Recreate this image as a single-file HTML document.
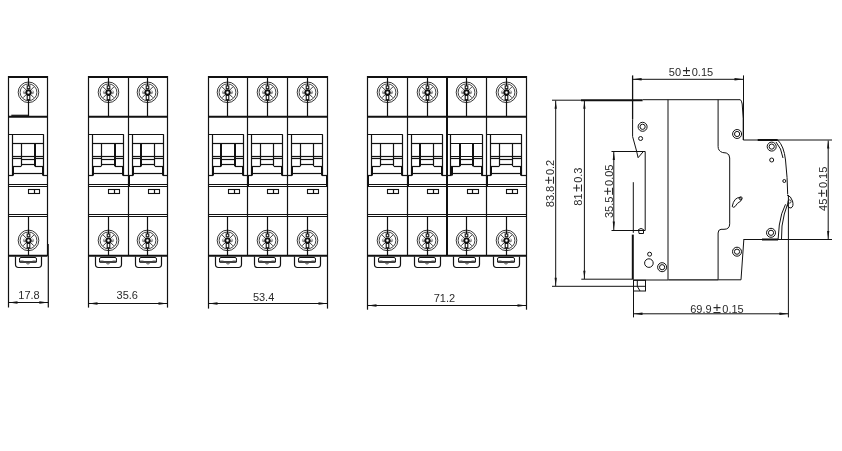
<!DOCTYPE html><html><head><meta charset="utf-8"><style>html,body{margin:0;padding:0;background:#fff;}svg{display:block;font-family:"Liberation Sans",sans-serif;} svg{will-change:transform}</style></head><body>
<svg width="842" height="451" viewBox="0 0 842 451">
<rect width="842" height="451" fill="#fff"/>
<line x1="8.50" y1="76.00" x2="8.50" y2="307.50" stroke="#111" stroke-width="1.2"/>
<line x1="47.50" y1="76.00" x2="47.50" y2="256.00" stroke="#111" stroke-width="1.2"/>
<line x1="48.00" y1="244.00" x2="48.00" y2="256.00" stroke="#111" stroke-width="1.6"/>
<line x1="48.30" y1="256.00" x2="48.30" y2="307.50" stroke="#111" stroke-width="1.2"/>
<line x1="8.50" y1="77.00" x2="47.50" y2="77.00" stroke="#111" stroke-width="2.0"/>
<line x1="8.50" y1="116.70" x2="47.50" y2="116.70" stroke="#111" stroke-width="2.0"/>
<line x1="8.50" y1="184.50" x2="47.50" y2="184.50" stroke="#111" stroke-width="1.2"/>
<line x1="8.50" y1="186.50" x2="47.50" y2="186.50" stroke="#111" stroke-width="1.2"/>
<line x1="8.50" y1="214.50" x2="47.50" y2="214.50" stroke="#111" stroke-width="1.2"/>
<line x1="8.50" y1="216.50" x2="47.50" y2="216.50" stroke="#111" stroke-width="1.2"/>
<line x1="8.50" y1="255.80" x2="47.50" y2="255.80" stroke="#111" stroke-width="2.0"/>
<line x1="28.50" y1="77.00" x2="28.50" y2="85.90" stroke="#111" stroke-width="1.2"/>
<line x1="28.50" y1="99.70" x2="28.50" y2="116.00" stroke="#111" stroke-width="1.2"/>
<circle cx="28.50" cy="92.30" r="10.30" fill="none" stroke="#111" stroke-width="0.85"/>
<circle cx="28.50" cy="92.30" r="8.40" fill="none" stroke="#111" stroke-width="0.8"/>
<line x1="30.62" y1="94.42" x2="33.87" y2="97.67" stroke="#222" stroke-width="0.9"/>
<line x1="26.38" y1="94.42" x2="23.13" y2="97.67" stroke="#222" stroke-width="0.9"/>
<line x1="26.38" y1="90.18" x2="23.13" y2="86.93" stroke="#222" stroke-width="0.9"/>
<line x1="30.62" y1="90.18" x2="33.87" y2="86.93" stroke="#222" stroke-width="0.9"/>
<path d="M24.30,90.50 A2.6,2.6 0 0 0 24.30,94.10" fill="none" stroke="#777" stroke-width="0.9"/>
<path d="M32.70,90.50 A2.6,2.6 0 0 1 32.70,94.10" fill="none" stroke="#777" stroke-width="0.9"/>
<line x1="23.90" y1="92.90" x2="25.90" y2="92.90" stroke="#333" stroke-width="0.9"/>
<line x1="31.10" y1="92.90" x2="33.10" y2="92.90" stroke="#333" stroke-width="0.9"/>
<circle cx="28.50" cy="92.50" r="2.20" fill="none" stroke="#111" stroke-width="1.9"/>
<rect x="27.20" y="85.90" width="2.60" height="2.80" fill="none" stroke="#111" stroke-width="1.1" rx="0"/>
<rect x="27.20" y="95.30" width="2.60" height="4.40" fill="none" stroke="#111" stroke-width="1.1" rx="0"/>
<line x1="8.50" y1="134.50" x2="43.60" y2="134.50" stroke="#111" stroke-width="1.2"/>
<line x1="12.50" y1="134.30" x2="12.50" y2="175.60" stroke="#111" stroke-width="1.2"/>
<line x1="43.50" y1="134.30" x2="43.50" y2="175.60" stroke="#111" stroke-width="1.2"/>
<line x1="12.40" y1="143.50" x2="43.60" y2="143.50" stroke="#111" stroke-width="1.2"/>
<line x1="21.50" y1="143.30" x2="21.50" y2="166.20" stroke="#111" stroke-width="1.2"/>
<line x1="35.00" y1="143.30" x2="35.00" y2="166.20" stroke="#111" stroke-width="2.0"/>
<line x1="12.40" y1="156.50" x2="43.60" y2="156.50" stroke="#111" stroke-width="1.2"/>
<line x1="12.40" y1="158.50" x2="21.30" y2="158.50" stroke="#111" stroke-width="1.2"/>
<line x1="34.90" y1="158.50" x2="43.60" y2="158.50" stroke="#111" stroke-width="1.2"/>
<line x1="21.30" y1="159.50" x2="34.90" y2="159.50" stroke="#111" stroke-width="1.2"/>
<line x1="21.30" y1="164.50" x2="34.90" y2="164.50" stroke="#111" stroke-width="1.2"/>
<line x1="12.40" y1="166.50" x2="21.30" y2="166.50" stroke="#111" stroke-width="1.2"/>
<line x1="34.90" y1="166.50" x2="43.60" y2="166.50" stroke="#111" stroke-width="1.2"/>
<line x1="13.00" y1="166.20" x2="13.00" y2="175.60" stroke="#111" stroke-width="2.0"/>
<line x1="43.00" y1="166.20" x2="43.00" y2="175.60" stroke="#111" stroke-width="2.0"/>
<line x1="13.10" y1="173.50" x2="42.90" y2="173.50" stroke="#111" stroke-width="1.2"/>
<line x1="8.50" y1="175.50" x2="13.10" y2="175.50" stroke="#111" stroke-width="1.2"/>
<line x1="42.90" y1="175.50" x2="47.50" y2="175.50" stroke="#111" stroke-width="1.2"/>
<rect x="28.50" y="189.50" width="11.00" height="4.00" fill="none" stroke="#111" stroke-width="1.1" rx="0"/>
<line x1="34.50" y1="189.50" x2="34.50" y2="193.50" stroke="#111" stroke-width="1.2"/>
<line x1="28.50" y1="216.60" x2="28.50" y2="234.00" stroke="#111" stroke-width="1.2"/>
<line x1="28.50" y1="247.80" x2="28.50" y2="255.00" stroke="#111" stroke-width="1.2"/>
<circle cx="28.50" cy="240.40" r="10.30" fill="none" stroke="#111" stroke-width="0.85"/>
<circle cx="28.50" cy="240.40" r="8.40" fill="none" stroke="#111" stroke-width="0.8"/>
<line x1="30.62" y1="242.52" x2="33.87" y2="245.77" stroke="#222" stroke-width="0.9"/>
<line x1="26.38" y1="242.52" x2="23.13" y2="245.77" stroke="#222" stroke-width="0.9"/>
<line x1="26.38" y1="238.28" x2="23.13" y2="235.03" stroke="#222" stroke-width="0.9"/>
<line x1="30.62" y1="238.28" x2="33.87" y2="235.03" stroke="#222" stroke-width="0.9"/>
<path d="M24.30,238.60 A2.6,2.6 0 0 0 24.30,242.20" fill="none" stroke="#777" stroke-width="0.9"/>
<path d="M32.70,238.60 A2.6,2.6 0 0 1 32.70,242.20" fill="none" stroke="#777" stroke-width="0.9"/>
<line x1="23.90" y1="241.00" x2="25.90" y2="241.00" stroke="#333" stroke-width="0.9"/>
<line x1="31.10" y1="241.00" x2="33.10" y2="241.00" stroke="#333" stroke-width="0.9"/>
<circle cx="28.50" cy="240.60" r="2.20" fill="none" stroke="#111" stroke-width="1.9"/>
<rect x="27.20" y="234.00" width="2.60" height="2.80" fill="none" stroke="#111" stroke-width="1.1" rx="0"/>
<rect x="27.20" y="243.40" width="2.60" height="4.40" fill="none" stroke="#111" stroke-width="1.1" rx="0"/>
<path d="M15.50,256.5 L15.50,264.3 Q15.50,267.5 18.50,267.5 L38.50,267.5 Q41.50,267.5 41.50,264.3 L41.50,256.5" fill="none" stroke="#111" stroke-width="1.2"/>
<path d="M19.50,262 L19.50,259 Q19.50,257.5 21.00,257.5 L35.00,257.5 Q36.50,257.5 36.50,259 L36.50,262" fill="none" stroke="#111" stroke-width="1.0"/>
<line x1="19.50" y1="262.00" x2="36.50" y2="262.00" stroke="#111" stroke-width="1.6"/>
<line x1="19.50" y1="260.80" x2="23.50" y2="260.80" stroke="#777" stroke-width="0.8"/>
<line x1="32.50" y1="260.80" x2="36.50" y2="260.80" stroke="#777" stroke-width="0.8"/>
<path d="M26.40,262.6 A1.6,1.4 0 0 0 29.60,262.6" fill="none" stroke="#555" stroke-width="1.0"/>
<line x1="8.50" y1="302.50" x2="48.30" y2="302.50" stroke="#111" stroke-width="1.1"/>
<path d="M8.50,302.50 L17.50,301.20 L17.50,303.80 Z" fill="#111" stroke="none"/>
<path d="M48.30,302.50 L39.30,301.20 L39.30,303.80 Z" fill="#111" stroke="none"/>
<text x="29.00" y="299.30" font-size="11" text-anchor="middle" fill="#2a2a2a">17.8</text>
<line x1="88.50" y1="76.00" x2="88.50" y2="307.60" stroke="#111" stroke-width="1.2"/>
<line x1="167.50" y1="76.00" x2="167.50" y2="307.60" stroke="#111" stroke-width="1.2"/>
<line x1="128.50" y1="77.00" x2="128.50" y2="256.00" stroke="#111" stroke-width="1.2"/>
<line x1="129.00" y1="175.60" x2="129.00" y2="186.40" stroke="#111" stroke-width="2.0"/>
<line x1="88.50" y1="77.00" x2="167.50" y2="77.00" stroke="#111" stroke-width="2.0"/>
<line x1="88.50" y1="116.70" x2="167.50" y2="116.70" stroke="#111" stroke-width="2.0"/>
<line x1="88.50" y1="184.50" x2="167.50" y2="184.50" stroke="#111" stroke-width="1.2"/>
<line x1="88.50" y1="186.50" x2="167.50" y2="186.50" stroke="#111" stroke-width="1.2"/>
<line x1="88.50" y1="214.50" x2="167.50" y2="214.50" stroke="#111" stroke-width="1.2"/>
<line x1="88.50" y1="216.50" x2="167.50" y2="216.50" stroke="#111" stroke-width="1.2"/>
<line x1="88.50" y1="255.80" x2="167.50" y2="255.80" stroke="#111" stroke-width="2.0"/>
<line x1="108.50" y1="77.00" x2="108.50" y2="85.90" stroke="#111" stroke-width="1.2"/>
<line x1="108.50" y1="99.70" x2="108.50" y2="116.00" stroke="#111" stroke-width="1.2"/>
<circle cx="108.50" cy="92.30" r="10.30" fill="none" stroke="#111" stroke-width="0.85"/>
<circle cx="108.50" cy="92.30" r="8.40" fill="none" stroke="#111" stroke-width="0.8"/>
<line x1="110.62" y1="94.42" x2="113.87" y2="97.67" stroke="#222" stroke-width="0.9"/>
<line x1="106.38" y1="94.42" x2="103.13" y2="97.67" stroke="#222" stroke-width="0.9"/>
<line x1="106.38" y1="90.18" x2="103.13" y2="86.93" stroke="#222" stroke-width="0.9"/>
<line x1="110.62" y1="90.18" x2="113.87" y2="86.93" stroke="#222" stroke-width="0.9"/>
<path d="M104.30,90.50 A2.6,2.6 0 0 0 104.30,94.10" fill="none" stroke="#777" stroke-width="0.9"/>
<path d="M112.70,90.50 A2.6,2.6 0 0 1 112.70,94.10" fill="none" stroke="#777" stroke-width="0.9"/>
<line x1="103.90" y1="92.90" x2="105.90" y2="92.90" stroke="#333" stroke-width="0.9"/>
<line x1="111.10" y1="92.90" x2="113.10" y2="92.90" stroke="#333" stroke-width="0.9"/>
<circle cx="108.50" cy="92.50" r="2.20" fill="none" stroke="#111" stroke-width="1.9"/>
<rect x="107.20" y="85.90" width="2.60" height="2.80" fill="none" stroke="#111" stroke-width="1.1" rx="0"/>
<rect x="107.20" y="95.30" width="2.60" height="4.40" fill="none" stroke="#111" stroke-width="1.1" rx="0"/>
<line x1="88.50" y1="134.50" x2="123.60" y2="134.50" stroke="#111" stroke-width="1.2"/>
<line x1="92.50" y1="134.30" x2="92.50" y2="175.60" stroke="#111" stroke-width="1.2"/>
<line x1="123.50" y1="134.30" x2="123.50" y2="175.60" stroke="#111" stroke-width="1.2"/>
<line x1="92.40" y1="143.50" x2="123.60" y2="143.50" stroke="#111" stroke-width="1.2"/>
<line x1="101.50" y1="143.30" x2="101.50" y2="166.20" stroke="#111" stroke-width="1.2"/>
<line x1="115.00" y1="143.30" x2="115.00" y2="166.20" stroke="#111" stroke-width="2.0"/>
<line x1="92.40" y1="156.50" x2="123.60" y2="156.50" stroke="#111" stroke-width="1.2"/>
<line x1="92.40" y1="158.50" x2="101.30" y2="158.50" stroke="#111" stroke-width="1.2"/>
<line x1="114.90" y1="158.50" x2="123.60" y2="158.50" stroke="#111" stroke-width="1.2"/>
<line x1="101.30" y1="159.50" x2="114.90" y2="159.50" stroke="#111" stroke-width="1.2"/>
<line x1="101.30" y1="164.50" x2="114.90" y2="164.50" stroke="#111" stroke-width="1.2"/>
<line x1="92.40" y1="166.50" x2="101.30" y2="166.50" stroke="#111" stroke-width="1.2"/>
<line x1="114.90" y1="166.50" x2="123.60" y2="166.50" stroke="#111" stroke-width="1.2"/>
<line x1="93.00" y1="166.20" x2="93.00" y2="175.60" stroke="#111" stroke-width="2.0"/>
<line x1="123.00" y1="166.20" x2="123.00" y2="175.60" stroke="#111" stroke-width="2.0"/>
<line x1="93.10" y1="173.50" x2="122.90" y2="173.50" stroke="#111" stroke-width="1.2"/>
<line x1="88.50" y1="175.50" x2="93.10" y2="175.50" stroke="#111" stroke-width="1.2"/>
<line x1="122.90" y1="175.50" x2="128.50" y2="175.50" stroke="#111" stroke-width="1.2"/>
<rect x="108.50" y="189.50" width="11.00" height="4.00" fill="none" stroke="#111" stroke-width="1.1" rx="0"/>
<line x1="114.50" y1="189.50" x2="114.50" y2="193.50" stroke="#111" stroke-width="1.2"/>
<line x1="108.50" y1="216.60" x2="108.50" y2="234.00" stroke="#111" stroke-width="1.2"/>
<line x1="108.50" y1="247.80" x2="108.50" y2="255.00" stroke="#111" stroke-width="1.2"/>
<circle cx="108.50" cy="240.40" r="10.30" fill="none" stroke="#111" stroke-width="0.85"/>
<circle cx="108.50" cy="240.40" r="8.40" fill="none" stroke="#111" stroke-width="0.8"/>
<line x1="110.62" y1="242.52" x2="113.87" y2="245.77" stroke="#222" stroke-width="0.9"/>
<line x1="106.38" y1="242.52" x2="103.13" y2="245.77" stroke="#222" stroke-width="0.9"/>
<line x1="106.38" y1="238.28" x2="103.13" y2="235.03" stroke="#222" stroke-width="0.9"/>
<line x1="110.62" y1="238.28" x2="113.87" y2="235.03" stroke="#222" stroke-width="0.9"/>
<path d="M104.30,238.60 A2.6,2.6 0 0 0 104.30,242.20" fill="none" stroke="#777" stroke-width="0.9"/>
<path d="M112.70,238.60 A2.6,2.6 0 0 1 112.70,242.20" fill="none" stroke="#777" stroke-width="0.9"/>
<line x1="103.90" y1="241.00" x2="105.90" y2="241.00" stroke="#333" stroke-width="0.9"/>
<line x1="111.10" y1="241.00" x2="113.10" y2="241.00" stroke="#333" stroke-width="0.9"/>
<circle cx="108.50" cy="240.60" r="2.20" fill="none" stroke="#111" stroke-width="1.9"/>
<rect x="107.20" y="234.00" width="2.60" height="2.80" fill="none" stroke="#111" stroke-width="1.1" rx="0"/>
<rect x="107.20" y="243.40" width="2.60" height="4.40" fill="none" stroke="#111" stroke-width="1.1" rx="0"/>
<path d="M95.50,256.5 L95.50,264.3 Q95.50,267.5 98.50,267.5 L118.50,267.5 Q121.50,267.5 121.50,264.3 L121.50,256.5" fill="none" stroke="#111" stroke-width="1.2"/>
<path d="M99.50,262 L99.50,259 Q99.50,257.5 101.00,257.5 L115.00,257.5 Q116.50,257.5 116.50,259 L116.50,262" fill="none" stroke="#111" stroke-width="1.0"/>
<line x1="99.50" y1="262.00" x2="116.50" y2="262.00" stroke="#111" stroke-width="1.6"/>
<line x1="99.50" y1="260.80" x2="103.50" y2="260.80" stroke="#777" stroke-width="0.8"/>
<line x1="112.50" y1="260.80" x2="116.50" y2="260.80" stroke="#777" stroke-width="0.8"/>
<path d="M106.40,262.6 A1.6,1.4 0 0 0 109.60,262.6" fill="none" stroke="#555" stroke-width="1.0"/>
<line x1="147.50" y1="77.00" x2="147.50" y2="85.90" stroke="#111" stroke-width="1.2"/>
<line x1="147.50" y1="99.70" x2="147.50" y2="116.00" stroke="#111" stroke-width="1.2"/>
<circle cx="147.50" cy="92.30" r="10.30" fill="none" stroke="#111" stroke-width="0.85"/>
<circle cx="147.50" cy="92.30" r="8.40" fill="none" stroke="#111" stroke-width="0.8"/>
<line x1="149.62" y1="94.42" x2="152.87" y2="97.67" stroke="#222" stroke-width="0.9"/>
<line x1="145.38" y1="94.42" x2="142.13" y2="97.67" stroke="#222" stroke-width="0.9"/>
<line x1="145.38" y1="90.18" x2="142.13" y2="86.93" stroke="#222" stroke-width="0.9"/>
<line x1="149.62" y1="90.18" x2="152.87" y2="86.93" stroke="#222" stroke-width="0.9"/>
<path d="M143.30,90.50 A2.6,2.6 0 0 0 143.30,94.10" fill="none" stroke="#777" stroke-width="0.9"/>
<path d="M151.70,90.50 A2.6,2.6 0 0 1 151.70,94.10" fill="none" stroke="#777" stroke-width="0.9"/>
<line x1="142.90" y1="92.90" x2="144.90" y2="92.90" stroke="#333" stroke-width="0.9"/>
<line x1="150.10" y1="92.90" x2="152.10" y2="92.90" stroke="#333" stroke-width="0.9"/>
<circle cx="147.50" cy="92.50" r="2.20" fill="none" stroke="#111" stroke-width="1.9"/>
<rect x="146.20" y="85.90" width="2.60" height="2.80" fill="none" stroke="#111" stroke-width="1.1" rx="0"/>
<rect x="146.20" y="95.30" width="2.60" height="4.40" fill="none" stroke="#111" stroke-width="1.1" rx="0"/>
<line x1="128.50" y1="134.50" x2="163.60" y2="134.50" stroke="#111" stroke-width="1.2"/>
<line x1="132.50" y1="134.30" x2="132.50" y2="175.60" stroke="#111" stroke-width="1.2"/>
<line x1="163.50" y1="134.30" x2="163.50" y2="175.60" stroke="#111" stroke-width="1.2"/>
<line x1="132.40" y1="143.50" x2="163.60" y2="143.50" stroke="#111" stroke-width="1.2"/>
<line x1="141.00" y1="143.30" x2="141.00" y2="166.20" stroke="#111" stroke-width="2.0"/>
<line x1="154.50" y1="143.30" x2="154.50" y2="166.20" stroke="#111" stroke-width="1.2"/>
<line x1="132.40" y1="156.50" x2="163.60" y2="156.50" stroke="#111" stroke-width="1.2"/>
<line x1="132.40" y1="158.50" x2="141.30" y2="158.50" stroke="#111" stroke-width="1.2"/>
<line x1="154.90" y1="158.50" x2="163.60" y2="158.50" stroke="#111" stroke-width="1.2"/>
<line x1="141.30" y1="159.50" x2="154.90" y2="159.50" stroke="#111" stroke-width="1.2"/>
<line x1="141.30" y1="164.50" x2="154.90" y2="164.50" stroke="#111" stroke-width="1.2"/>
<line x1="132.40" y1="166.50" x2="141.30" y2="166.50" stroke="#111" stroke-width="1.2"/>
<line x1="154.90" y1="166.50" x2="163.60" y2="166.50" stroke="#111" stroke-width="1.2"/>
<line x1="133.00" y1="166.20" x2="133.00" y2="175.60" stroke="#111" stroke-width="2.0"/>
<line x1="163.00" y1="166.20" x2="163.00" y2="175.60" stroke="#111" stroke-width="2.0"/>
<line x1="133.10" y1="173.50" x2="162.90" y2="173.50" stroke="#111" stroke-width="1.2"/>
<line x1="128.50" y1="175.50" x2="133.10" y2="175.50" stroke="#111" stroke-width="1.2"/>
<line x1="162.90" y1="175.50" x2="167.50" y2="175.50" stroke="#111" stroke-width="1.2"/>
<rect x="148.50" y="189.50" width="11.00" height="4.00" fill="none" stroke="#111" stroke-width="1.1" rx="0"/>
<line x1="154.50" y1="189.50" x2="154.50" y2="193.50" stroke="#111" stroke-width="1.2"/>
<line x1="147.50" y1="216.60" x2="147.50" y2="234.00" stroke="#111" stroke-width="1.2"/>
<line x1="147.50" y1="247.80" x2="147.50" y2="255.00" stroke="#111" stroke-width="1.2"/>
<circle cx="147.50" cy="240.40" r="10.30" fill="none" stroke="#111" stroke-width="0.85"/>
<circle cx="147.50" cy="240.40" r="8.40" fill="none" stroke="#111" stroke-width="0.8"/>
<line x1="149.62" y1="242.52" x2="152.87" y2="245.77" stroke="#222" stroke-width="0.9"/>
<line x1="145.38" y1="242.52" x2="142.13" y2="245.77" stroke="#222" stroke-width="0.9"/>
<line x1="145.38" y1="238.28" x2="142.13" y2="235.03" stroke="#222" stroke-width="0.9"/>
<line x1="149.62" y1="238.28" x2="152.87" y2="235.03" stroke="#222" stroke-width="0.9"/>
<path d="M143.30,238.60 A2.6,2.6 0 0 0 143.30,242.20" fill="none" stroke="#777" stroke-width="0.9"/>
<path d="M151.70,238.60 A2.6,2.6 0 0 1 151.70,242.20" fill="none" stroke="#777" stroke-width="0.9"/>
<line x1="142.90" y1="241.00" x2="144.90" y2="241.00" stroke="#333" stroke-width="0.9"/>
<line x1="150.10" y1="241.00" x2="152.10" y2="241.00" stroke="#333" stroke-width="0.9"/>
<circle cx="147.50" cy="240.60" r="2.20" fill="none" stroke="#111" stroke-width="1.9"/>
<rect x="146.20" y="234.00" width="2.60" height="2.80" fill="none" stroke="#111" stroke-width="1.1" rx="0"/>
<rect x="146.20" y="243.40" width="2.60" height="4.40" fill="none" stroke="#111" stroke-width="1.1" rx="0"/>
<path d="M135.50,256.5 L135.50,264.3 Q135.50,267.5 138.50,267.5 L158.50,267.5 Q161.50,267.5 161.50,264.3 L161.50,256.5" fill="none" stroke="#111" stroke-width="1.2"/>
<path d="M139.50,262 L139.50,259 Q139.50,257.5 141.00,257.5 L155.00,257.5 Q156.50,257.5 156.50,259 L156.50,262" fill="none" stroke="#111" stroke-width="1.0"/>
<line x1="139.50" y1="262.00" x2="156.50" y2="262.00" stroke="#111" stroke-width="1.6"/>
<line x1="139.50" y1="260.80" x2="143.50" y2="260.80" stroke="#777" stroke-width="0.8"/>
<line x1="152.50" y1="260.80" x2="156.50" y2="260.80" stroke="#777" stroke-width="0.8"/>
<path d="M146.40,262.6 A1.6,1.4 0 0 0 149.60,262.6" fill="none" stroke="#555" stroke-width="1.0"/>
<line x1="88.50" y1="303.50" x2="167.50" y2="303.50" stroke="#111" stroke-width="1.1"/>
<path d="M88.50,303.50 L97.50,302.20 L97.50,304.80 Z" fill="#111" stroke="none"/>
<path d="M167.50,303.50 L158.50,302.20 L158.50,304.80 Z" fill="#111" stroke="none"/>
<text x="127.30" y="299.10" font-size="11" text-anchor="middle" fill="#2a2a2a">35.6</text>
<line x1="208.50" y1="76.00" x2="208.50" y2="308.60" stroke="#111" stroke-width="1.2"/>
<line x1="327.50" y1="76.00" x2="327.50" y2="308.60" stroke="#111" stroke-width="1.2"/>
<line x1="247.50" y1="77.00" x2="247.50" y2="256.00" stroke="#111" stroke-width="1.2"/>
<line x1="287.50" y1="77.00" x2="287.50" y2="256.00" stroke="#111" stroke-width="1.2"/>
<line x1="248.00" y1="175.60" x2="248.00" y2="186.40" stroke="#111" stroke-width="2.0"/>
<line x1="327.00" y1="175.60" x2="327.00" y2="186.40" stroke="#111" stroke-width="2.0"/>
<line x1="208.50" y1="77.00" x2="327.50" y2="77.00" stroke="#111" stroke-width="2.0"/>
<line x1="208.50" y1="116.70" x2="327.50" y2="116.70" stroke="#111" stroke-width="2.0"/>
<line x1="208.50" y1="184.50" x2="327.50" y2="184.50" stroke="#111" stroke-width="1.2"/>
<line x1="208.50" y1="186.50" x2="327.50" y2="186.50" stroke="#111" stroke-width="1.2"/>
<line x1="208.50" y1="214.50" x2="327.50" y2="214.50" stroke="#111" stroke-width="1.2"/>
<line x1="208.50" y1="216.50" x2="327.50" y2="216.50" stroke="#111" stroke-width="1.2"/>
<line x1="208.50" y1="255.80" x2="327.50" y2="255.80" stroke="#111" stroke-width="2.0"/>
<line x1="227.50" y1="77.00" x2="227.50" y2="85.90" stroke="#111" stroke-width="1.2"/>
<line x1="227.50" y1="99.70" x2="227.50" y2="116.00" stroke="#111" stroke-width="1.2"/>
<circle cx="227.50" cy="92.30" r="10.30" fill="none" stroke="#111" stroke-width="0.85"/>
<circle cx="227.50" cy="92.30" r="8.40" fill="none" stroke="#111" stroke-width="0.8"/>
<line x1="229.62" y1="94.42" x2="232.87" y2="97.67" stroke="#222" stroke-width="0.9"/>
<line x1="225.38" y1="94.42" x2="222.13" y2="97.67" stroke="#222" stroke-width="0.9"/>
<line x1="225.38" y1="90.18" x2="222.13" y2="86.93" stroke="#222" stroke-width="0.9"/>
<line x1="229.62" y1="90.18" x2="232.87" y2="86.93" stroke="#222" stroke-width="0.9"/>
<path d="M223.30,90.50 A2.6,2.6 0 0 0 223.30,94.10" fill="none" stroke="#777" stroke-width="0.9"/>
<path d="M231.70,90.50 A2.6,2.6 0 0 1 231.70,94.10" fill="none" stroke="#777" stroke-width="0.9"/>
<line x1="222.90" y1="92.90" x2="224.90" y2="92.90" stroke="#333" stroke-width="0.9"/>
<line x1="230.10" y1="92.90" x2="232.10" y2="92.90" stroke="#333" stroke-width="0.9"/>
<circle cx="227.50" cy="92.50" r="2.20" fill="none" stroke="#111" stroke-width="1.9"/>
<rect x="226.20" y="85.90" width="2.60" height="2.80" fill="none" stroke="#111" stroke-width="1.1" rx="0"/>
<rect x="226.20" y="95.30" width="2.60" height="4.40" fill="none" stroke="#111" stroke-width="1.1" rx="0"/>
<line x1="208.50" y1="134.50" x2="243.60" y2="134.50" stroke="#111" stroke-width="1.2"/>
<line x1="212.50" y1="134.30" x2="212.50" y2="175.60" stroke="#111" stroke-width="1.2"/>
<line x1="243.50" y1="134.30" x2="243.50" y2="175.60" stroke="#111" stroke-width="1.2"/>
<line x1="212.40" y1="143.50" x2="243.60" y2="143.50" stroke="#111" stroke-width="1.2"/>
<line x1="221.00" y1="143.30" x2="221.00" y2="166.20" stroke="#111" stroke-width="2.0"/>
<line x1="235.00" y1="143.30" x2="235.00" y2="166.20" stroke="#111" stroke-width="2.0"/>
<line x1="212.40" y1="156.50" x2="243.60" y2="156.50" stroke="#111" stroke-width="1.2"/>
<line x1="212.40" y1="158.50" x2="221.30" y2="158.50" stroke="#111" stroke-width="1.2"/>
<line x1="234.90" y1="158.50" x2="243.60" y2="158.50" stroke="#111" stroke-width="1.2"/>
<line x1="221.30" y1="159.50" x2="234.90" y2="159.50" stroke="#111" stroke-width="1.2"/>
<line x1="221.30" y1="164.50" x2="234.90" y2="164.50" stroke="#111" stroke-width="1.2"/>
<line x1="212.40" y1="166.50" x2="221.30" y2="166.50" stroke="#111" stroke-width="1.2"/>
<line x1="234.90" y1="166.50" x2="243.60" y2="166.50" stroke="#111" stroke-width="1.2"/>
<line x1="213.00" y1="166.20" x2="213.00" y2="175.60" stroke="#111" stroke-width="2.0"/>
<line x1="243.00" y1="166.20" x2="243.00" y2="175.60" stroke="#111" stroke-width="2.0"/>
<line x1="213.10" y1="173.50" x2="242.90" y2="173.50" stroke="#111" stroke-width="1.2"/>
<line x1="208.50" y1="175.50" x2="213.10" y2="175.50" stroke="#111" stroke-width="1.2"/>
<line x1="242.90" y1="175.50" x2="247.50" y2="175.50" stroke="#111" stroke-width="1.2"/>
<rect x="228.50" y="189.50" width="11.00" height="4.00" fill="none" stroke="#111" stroke-width="1.1" rx="0"/>
<line x1="234.50" y1="189.50" x2="234.50" y2="193.50" stroke="#111" stroke-width="1.2"/>
<line x1="227.50" y1="216.60" x2="227.50" y2="234.00" stroke="#111" stroke-width="1.2"/>
<line x1="227.50" y1="247.80" x2="227.50" y2="255.00" stroke="#111" stroke-width="1.2"/>
<circle cx="227.50" cy="240.40" r="10.30" fill="none" stroke="#111" stroke-width="0.85"/>
<circle cx="227.50" cy="240.40" r="8.40" fill="none" stroke="#111" stroke-width="0.8"/>
<line x1="229.62" y1="242.52" x2="232.87" y2="245.77" stroke="#222" stroke-width="0.9"/>
<line x1="225.38" y1="242.52" x2="222.13" y2="245.77" stroke="#222" stroke-width="0.9"/>
<line x1="225.38" y1="238.28" x2="222.13" y2="235.03" stroke="#222" stroke-width="0.9"/>
<line x1="229.62" y1="238.28" x2="232.87" y2="235.03" stroke="#222" stroke-width="0.9"/>
<path d="M223.30,238.60 A2.6,2.6 0 0 0 223.30,242.20" fill="none" stroke="#777" stroke-width="0.9"/>
<path d="M231.70,238.60 A2.6,2.6 0 0 1 231.70,242.20" fill="none" stroke="#777" stroke-width="0.9"/>
<line x1="222.90" y1="241.00" x2="224.90" y2="241.00" stroke="#333" stroke-width="0.9"/>
<line x1="230.10" y1="241.00" x2="232.10" y2="241.00" stroke="#333" stroke-width="0.9"/>
<circle cx="227.50" cy="240.60" r="2.20" fill="none" stroke="#111" stroke-width="1.9"/>
<rect x="226.20" y="234.00" width="2.60" height="2.80" fill="none" stroke="#111" stroke-width="1.1" rx="0"/>
<rect x="226.20" y="243.40" width="2.60" height="4.40" fill="none" stroke="#111" stroke-width="1.1" rx="0"/>
<path d="M215.50,256.5 L215.50,264.3 Q215.50,267.5 218.50,267.5 L238.50,267.5 Q241.50,267.5 241.50,264.3 L241.50,256.5" fill="none" stroke="#111" stroke-width="1.2"/>
<path d="M219.50,262 L219.50,259 Q219.50,257.5 221.00,257.5 L235.00,257.5 Q236.50,257.5 236.50,259 L236.50,262" fill="none" stroke="#111" stroke-width="1.0"/>
<line x1="219.50" y1="262.00" x2="236.50" y2="262.00" stroke="#111" stroke-width="1.6"/>
<line x1="219.50" y1="260.80" x2="223.50" y2="260.80" stroke="#777" stroke-width="0.8"/>
<line x1="232.50" y1="260.80" x2="236.50" y2="260.80" stroke="#777" stroke-width="0.8"/>
<path d="M226.40,262.6 A1.6,1.4 0 0 0 229.60,262.6" fill="none" stroke="#555" stroke-width="1.0"/>
<line x1="267.50" y1="77.00" x2="267.50" y2="85.90" stroke="#111" stroke-width="1.2"/>
<line x1="267.50" y1="99.70" x2="267.50" y2="116.00" stroke="#111" stroke-width="1.2"/>
<circle cx="267.50" cy="92.30" r="10.30" fill="none" stroke="#111" stroke-width="0.85"/>
<circle cx="267.50" cy="92.30" r="8.40" fill="none" stroke="#111" stroke-width="0.8"/>
<line x1="269.62" y1="94.42" x2="272.87" y2="97.67" stroke="#222" stroke-width="0.9"/>
<line x1="265.38" y1="94.42" x2="262.13" y2="97.67" stroke="#222" stroke-width="0.9"/>
<line x1="265.38" y1="90.18" x2="262.13" y2="86.93" stroke="#222" stroke-width="0.9"/>
<line x1="269.62" y1="90.18" x2="272.87" y2="86.93" stroke="#222" stroke-width="0.9"/>
<path d="M263.30,90.50 A2.6,2.6 0 0 0 263.30,94.10" fill="none" stroke="#777" stroke-width="0.9"/>
<path d="M271.70,90.50 A2.6,2.6 0 0 1 271.70,94.10" fill="none" stroke="#777" stroke-width="0.9"/>
<line x1="262.90" y1="92.90" x2="264.90" y2="92.90" stroke="#333" stroke-width="0.9"/>
<line x1="270.10" y1="92.90" x2="272.10" y2="92.90" stroke="#333" stroke-width="0.9"/>
<circle cx="267.50" cy="92.50" r="2.20" fill="none" stroke="#111" stroke-width="1.9"/>
<rect x="266.20" y="85.90" width="2.60" height="2.80" fill="none" stroke="#111" stroke-width="1.1" rx="0"/>
<rect x="266.20" y="95.30" width="2.60" height="4.40" fill="none" stroke="#111" stroke-width="1.1" rx="0"/>
<line x1="247.50" y1="134.50" x2="282.60" y2="134.50" stroke="#111" stroke-width="1.2"/>
<line x1="251.50" y1="134.30" x2="251.50" y2="175.60" stroke="#111" stroke-width="1.2"/>
<line x1="282.50" y1="134.30" x2="282.50" y2="175.60" stroke="#111" stroke-width="1.2"/>
<line x1="251.40" y1="143.50" x2="282.60" y2="143.50" stroke="#111" stroke-width="1.2"/>
<line x1="260.50" y1="143.30" x2="260.50" y2="166.20" stroke="#111" stroke-width="1.2"/>
<line x1="273.50" y1="143.30" x2="273.50" y2="166.20" stroke="#111" stroke-width="1.2"/>
<line x1="251.40" y1="156.50" x2="282.60" y2="156.50" stroke="#111" stroke-width="1.2"/>
<line x1="251.40" y1="158.50" x2="260.30" y2="158.50" stroke="#111" stroke-width="1.2"/>
<line x1="273.90" y1="158.50" x2="282.60" y2="158.50" stroke="#111" stroke-width="1.2"/>
<line x1="260.30" y1="159.50" x2="273.90" y2="159.50" stroke="#111" stroke-width="1.2"/>
<line x1="260.30" y1="164.50" x2="273.90" y2="164.50" stroke="#111" stroke-width="1.2"/>
<line x1="251.40" y1="166.50" x2="260.30" y2="166.50" stroke="#111" stroke-width="1.2"/>
<line x1="273.90" y1="166.50" x2="282.60" y2="166.50" stroke="#111" stroke-width="1.2"/>
<line x1="252.00" y1="166.20" x2="252.00" y2="175.60" stroke="#111" stroke-width="2.0"/>
<line x1="282.00" y1="166.20" x2="282.00" y2="175.60" stroke="#111" stroke-width="2.0"/>
<line x1="252.10" y1="173.50" x2="281.90" y2="173.50" stroke="#111" stroke-width="1.2"/>
<line x1="247.50" y1="175.50" x2="252.10" y2="175.50" stroke="#111" stroke-width="1.2"/>
<line x1="281.90" y1="175.50" x2="287.50" y2="175.50" stroke="#111" stroke-width="1.2"/>
<rect x="267.50" y="189.50" width="11.00" height="4.00" fill="none" stroke="#111" stroke-width="1.1" rx="0"/>
<line x1="273.50" y1="189.50" x2="273.50" y2="193.50" stroke="#111" stroke-width="1.2"/>
<line x1="267.50" y1="216.60" x2="267.50" y2="234.00" stroke="#111" stroke-width="1.2"/>
<line x1="267.50" y1="247.80" x2="267.50" y2="255.00" stroke="#111" stroke-width="1.2"/>
<circle cx="267.50" cy="240.40" r="10.30" fill="none" stroke="#111" stroke-width="0.85"/>
<circle cx="267.50" cy="240.40" r="8.40" fill="none" stroke="#111" stroke-width="0.8"/>
<line x1="269.62" y1="242.52" x2="272.87" y2="245.77" stroke="#222" stroke-width="0.9"/>
<line x1="265.38" y1="242.52" x2="262.13" y2="245.77" stroke="#222" stroke-width="0.9"/>
<line x1="265.38" y1="238.28" x2="262.13" y2="235.03" stroke="#222" stroke-width="0.9"/>
<line x1="269.62" y1="238.28" x2="272.87" y2="235.03" stroke="#222" stroke-width="0.9"/>
<path d="M263.30,238.60 A2.6,2.6 0 0 0 263.30,242.20" fill="none" stroke="#777" stroke-width="0.9"/>
<path d="M271.70,238.60 A2.6,2.6 0 0 1 271.70,242.20" fill="none" stroke="#777" stroke-width="0.9"/>
<line x1="262.90" y1="241.00" x2="264.90" y2="241.00" stroke="#333" stroke-width="0.9"/>
<line x1="270.10" y1="241.00" x2="272.10" y2="241.00" stroke="#333" stroke-width="0.9"/>
<circle cx="267.50" cy="240.60" r="2.20" fill="none" stroke="#111" stroke-width="1.9"/>
<rect x="266.20" y="234.00" width="2.60" height="2.80" fill="none" stroke="#111" stroke-width="1.1" rx="0"/>
<rect x="266.20" y="243.40" width="2.60" height="4.40" fill="none" stroke="#111" stroke-width="1.1" rx="0"/>
<path d="M254.50,256.5 L254.50,264.3 Q254.50,267.5 257.50,267.5 L277.50,267.5 Q280.50,267.5 280.50,264.3 L280.50,256.5" fill="none" stroke="#111" stroke-width="1.2"/>
<path d="M258.50,262 L258.50,259 Q258.50,257.5 260.00,257.5 L274.00,257.5 Q275.50,257.5 275.50,259 L275.50,262" fill="none" stroke="#111" stroke-width="1.0"/>
<line x1="258.50" y1="262.00" x2="275.50" y2="262.00" stroke="#111" stroke-width="1.6"/>
<line x1="258.50" y1="260.80" x2="262.50" y2="260.80" stroke="#777" stroke-width="0.8"/>
<line x1="271.50" y1="260.80" x2="275.50" y2="260.80" stroke="#777" stroke-width="0.8"/>
<path d="M265.40,262.6 A1.6,1.4 0 0 0 268.60,262.6" fill="none" stroke="#555" stroke-width="1.0"/>
<line x1="307.50" y1="77.00" x2="307.50" y2="85.90" stroke="#111" stroke-width="1.2"/>
<line x1="307.50" y1="99.70" x2="307.50" y2="116.00" stroke="#111" stroke-width="1.2"/>
<circle cx="307.50" cy="92.30" r="10.30" fill="none" stroke="#111" stroke-width="0.85"/>
<circle cx="307.50" cy="92.30" r="8.40" fill="none" stroke="#111" stroke-width="0.8"/>
<line x1="309.62" y1="94.42" x2="312.87" y2="97.67" stroke="#222" stroke-width="0.9"/>
<line x1="305.38" y1="94.42" x2="302.13" y2="97.67" stroke="#222" stroke-width="0.9"/>
<line x1="305.38" y1="90.18" x2="302.13" y2="86.93" stroke="#222" stroke-width="0.9"/>
<line x1="309.62" y1="90.18" x2="312.87" y2="86.93" stroke="#222" stroke-width="0.9"/>
<path d="M303.30,90.50 A2.6,2.6 0 0 0 303.30,94.10" fill="none" stroke="#777" stroke-width="0.9"/>
<path d="M311.70,90.50 A2.6,2.6 0 0 1 311.70,94.10" fill="none" stroke="#777" stroke-width="0.9"/>
<line x1="302.90" y1="92.90" x2="304.90" y2="92.90" stroke="#333" stroke-width="0.9"/>
<line x1="310.10" y1="92.90" x2="312.10" y2="92.90" stroke="#333" stroke-width="0.9"/>
<circle cx="307.50" cy="92.50" r="2.20" fill="none" stroke="#111" stroke-width="1.9"/>
<rect x="306.20" y="85.90" width="2.60" height="2.80" fill="none" stroke="#111" stroke-width="1.1" rx="0"/>
<rect x="306.20" y="95.30" width="2.60" height="4.40" fill="none" stroke="#111" stroke-width="1.1" rx="0"/>
<line x1="287.50" y1="134.50" x2="322.60" y2="134.50" stroke="#111" stroke-width="1.2"/>
<line x1="291.50" y1="134.30" x2="291.50" y2="175.60" stroke="#111" stroke-width="1.2"/>
<line x1="322.50" y1="134.30" x2="322.50" y2="175.60" stroke="#111" stroke-width="1.2"/>
<line x1="291.40" y1="143.50" x2="322.60" y2="143.50" stroke="#111" stroke-width="1.2"/>
<line x1="300.50" y1="143.30" x2="300.50" y2="166.20" stroke="#111" stroke-width="1.2"/>
<line x1="313.50" y1="143.30" x2="313.50" y2="166.20" stroke="#111" stroke-width="1.2"/>
<line x1="291.40" y1="156.50" x2="322.60" y2="156.50" stroke="#111" stroke-width="1.2"/>
<line x1="291.40" y1="158.50" x2="300.30" y2="158.50" stroke="#111" stroke-width="1.2"/>
<line x1="313.90" y1="158.50" x2="322.60" y2="158.50" stroke="#111" stroke-width="1.2"/>
<line x1="300.30" y1="159.50" x2="313.90" y2="159.50" stroke="#111" stroke-width="1.2"/>
<line x1="300.30" y1="164.50" x2="313.90" y2="164.50" stroke="#111" stroke-width="1.2"/>
<line x1="291.40" y1="166.50" x2="300.30" y2="166.50" stroke="#111" stroke-width="1.2"/>
<line x1="313.90" y1="166.50" x2="322.60" y2="166.50" stroke="#111" stroke-width="1.2"/>
<line x1="292.00" y1="166.20" x2="292.00" y2="175.60" stroke="#111" stroke-width="2.0"/>
<line x1="322.00" y1="166.20" x2="322.00" y2="175.60" stroke="#111" stroke-width="2.0"/>
<line x1="292.10" y1="173.50" x2="321.90" y2="173.50" stroke="#111" stroke-width="1.2"/>
<line x1="287.50" y1="175.50" x2="292.10" y2="175.50" stroke="#111" stroke-width="1.2"/>
<line x1="321.90" y1="175.50" x2="327.50" y2="175.50" stroke="#111" stroke-width="1.2"/>
<rect x="307.50" y="189.50" width="11.00" height="4.00" fill="none" stroke="#111" stroke-width="1.1" rx="0"/>
<line x1="313.50" y1="189.50" x2="313.50" y2="193.50" stroke="#111" stroke-width="1.2"/>
<line x1="307.50" y1="216.60" x2="307.50" y2="234.00" stroke="#111" stroke-width="1.2"/>
<line x1="307.50" y1="247.80" x2="307.50" y2="255.00" stroke="#111" stroke-width="1.2"/>
<circle cx="307.50" cy="240.40" r="10.30" fill="none" stroke="#111" stroke-width="0.85"/>
<circle cx="307.50" cy="240.40" r="8.40" fill="none" stroke="#111" stroke-width="0.8"/>
<line x1="309.62" y1="242.52" x2="312.87" y2="245.77" stroke="#222" stroke-width="0.9"/>
<line x1="305.38" y1="242.52" x2="302.13" y2="245.77" stroke="#222" stroke-width="0.9"/>
<line x1="305.38" y1="238.28" x2="302.13" y2="235.03" stroke="#222" stroke-width="0.9"/>
<line x1="309.62" y1="238.28" x2="312.87" y2="235.03" stroke="#222" stroke-width="0.9"/>
<path d="M303.30,238.60 A2.6,2.6 0 0 0 303.30,242.20" fill="none" stroke="#777" stroke-width="0.9"/>
<path d="M311.70,238.60 A2.6,2.6 0 0 1 311.70,242.20" fill="none" stroke="#777" stroke-width="0.9"/>
<line x1="302.90" y1="241.00" x2="304.90" y2="241.00" stroke="#333" stroke-width="0.9"/>
<line x1="310.10" y1="241.00" x2="312.10" y2="241.00" stroke="#333" stroke-width="0.9"/>
<circle cx="307.50" cy="240.60" r="2.20" fill="none" stroke="#111" stroke-width="1.9"/>
<rect x="306.20" y="234.00" width="2.60" height="2.80" fill="none" stroke="#111" stroke-width="1.1" rx="0"/>
<rect x="306.20" y="243.40" width="2.60" height="4.40" fill="none" stroke="#111" stroke-width="1.1" rx="0"/>
<path d="M294.50,256.5 L294.50,264.3 Q294.50,267.5 297.50,267.5 L317.50,267.5 Q320.50,267.5 320.50,264.3 L320.50,256.5" fill="none" stroke="#111" stroke-width="1.2"/>
<path d="M298.50,262 L298.50,259 Q298.50,257.5 300.00,257.5 L314.00,257.5 Q315.50,257.5 315.50,259 L315.50,262" fill="none" stroke="#111" stroke-width="1.0"/>
<line x1="298.50" y1="262.00" x2="315.50" y2="262.00" stroke="#111" stroke-width="1.6"/>
<line x1="298.50" y1="260.80" x2="302.50" y2="260.80" stroke="#777" stroke-width="0.8"/>
<line x1="311.50" y1="260.80" x2="315.50" y2="260.80" stroke="#777" stroke-width="0.8"/>
<path d="M305.40,262.6 A1.6,1.4 0 0 0 308.60,262.6" fill="none" stroke="#555" stroke-width="1.0"/>
<line x1="208.50" y1="303.50" x2="327.50" y2="303.50" stroke="#111" stroke-width="1.1"/>
<path d="M208.50,303.50 L217.50,302.20 L217.50,304.80 Z" fill="#111" stroke="none"/>
<path d="M327.50,303.50 L318.50,302.20 L318.50,304.80 Z" fill="#111" stroke="none"/>
<text x="263.60" y="301.00" font-size="11" text-anchor="middle" fill="#2a2a2a">53.4</text>
<line x1="367.50" y1="76.00" x2="367.50" y2="309.70" stroke="#111" stroke-width="1.2"/>
<line x1="526.50" y1="76.00" x2="526.50" y2="309.70" stroke="#111" stroke-width="1.2"/>
<line x1="407.50" y1="77.00" x2="407.50" y2="256.00" stroke="#111" stroke-width="1.2"/>
<line x1="447.00" y1="77.00" x2="447.00" y2="256.00" stroke="#111" stroke-width="2.0"/>
<line x1="486.50" y1="77.00" x2="486.50" y2="256.00" stroke="#111" stroke-width="1.2"/>
<line x1="368.00" y1="175.60" x2="368.00" y2="186.40" stroke="#111" stroke-width="2.0"/>
<line x1="408.00" y1="175.60" x2="408.00" y2="186.40" stroke="#111" stroke-width="2.0"/>
<line x1="487.00" y1="175.60" x2="487.00" y2="186.40" stroke="#111" stroke-width="2.0"/>
<line x1="367.50" y1="77.00" x2="526.50" y2="77.00" stroke="#111" stroke-width="2.0"/>
<line x1="367.50" y1="116.70" x2="526.50" y2="116.70" stroke="#111" stroke-width="2.0"/>
<line x1="367.50" y1="184.50" x2="526.50" y2="184.50" stroke="#111" stroke-width="1.2"/>
<line x1="367.50" y1="186.50" x2="526.50" y2="186.50" stroke="#111" stroke-width="1.2"/>
<line x1="367.50" y1="214.50" x2="526.50" y2="214.50" stroke="#111" stroke-width="1.2"/>
<line x1="367.50" y1="216.50" x2="526.50" y2="216.50" stroke="#111" stroke-width="1.2"/>
<line x1="367.50" y1="255.80" x2="526.50" y2="255.80" stroke="#111" stroke-width="2.0"/>
<line x1="387.50" y1="77.00" x2="387.50" y2="85.90" stroke="#111" stroke-width="1.2"/>
<line x1="387.50" y1="99.70" x2="387.50" y2="116.00" stroke="#111" stroke-width="1.2"/>
<circle cx="387.50" cy="92.30" r="10.30" fill="none" stroke="#111" stroke-width="0.85"/>
<circle cx="387.50" cy="92.30" r="8.40" fill="none" stroke="#111" stroke-width="0.8"/>
<line x1="389.62" y1="94.42" x2="392.87" y2="97.67" stroke="#222" stroke-width="0.9"/>
<line x1="385.38" y1="94.42" x2="382.13" y2="97.67" stroke="#222" stroke-width="0.9"/>
<line x1="385.38" y1="90.18" x2="382.13" y2="86.93" stroke="#222" stroke-width="0.9"/>
<line x1="389.62" y1="90.18" x2="392.87" y2="86.93" stroke="#222" stroke-width="0.9"/>
<path d="M383.30,90.50 A2.6,2.6 0 0 0 383.30,94.10" fill="none" stroke="#777" stroke-width="0.9"/>
<path d="M391.70,90.50 A2.6,2.6 0 0 1 391.70,94.10" fill="none" stroke="#777" stroke-width="0.9"/>
<line x1="382.90" y1="92.90" x2="384.90" y2="92.90" stroke="#333" stroke-width="0.9"/>
<line x1="390.10" y1="92.90" x2="392.10" y2="92.90" stroke="#333" stroke-width="0.9"/>
<circle cx="387.50" cy="92.50" r="2.20" fill="none" stroke="#111" stroke-width="1.9"/>
<rect x="386.20" y="85.90" width="2.60" height="2.80" fill="none" stroke="#111" stroke-width="1.1" rx="0"/>
<rect x="386.20" y="95.30" width="2.60" height="4.40" fill="none" stroke="#111" stroke-width="1.1" rx="0"/>
<line x1="367.50" y1="134.50" x2="402.60" y2="134.50" stroke="#111" stroke-width="1.2"/>
<line x1="371.50" y1="134.30" x2="371.50" y2="175.60" stroke="#111" stroke-width="1.2"/>
<line x1="402.50" y1="134.30" x2="402.50" y2="175.60" stroke="#111" stroke-width="1.2"/>
<line x1="371.40" y1="143.50" x2="402.60" y2="143.50" stroke="#111" stroke-width="1.2"/>
<line x1="380.50" y1="143.30" x2="380.50" y2="166.20" stroke="#111" stroke-width="1.2"/>
<line x1="393.50" y1="143.30" x2="393.50" y2="166.20" stroke="#111" stroke-width="1.2"/>
<line x1="371.40" y1="156.50" x2="402.60" y2="156.50" stroke="#111" stroke-width="1.2"/>
<line x1="371.40" y1="158.50" x2="380.30" y2="158.50" stroke="#111" stroke-width="1.2"/>
<line x1="393.90" y1="158.50" x2="402.60" y2="158.50" stroke="#111" stroke-width="1.2"/>
<line x1="380.30" y1="159.50" x2="393.90" y2="159.50" stroke="#111" stroke-width="1.2"/>
<line x1="380.30" y1="164.50" x2="393.90" y2="164.50" stroke="#111" stroke-width="1.2"/>
<line x1="371.40" y1="166.50" x2="380.30" y2="166.50" stroke="#111" stroke-width="1.2"/>
<line x1="393.90" y1="166.50" x2="402.60" y2="166.50" stroke="#111" stroke-width="1.2"/>
<line x1="372.00" y1="166.20" x2="372.00" y2="175.60" stroke="#111" stroke-width="2.0"/>
<line x1="402.00" y1="166.20" x2="402.00" y2="175.60" stroke="#111" stroke-width="2.0"/>
<line x1="372.10" y1="173.50" x2="401.90" y2="173.50" stroke="#111" stroke-width="1.2"/>
<line x1="367.50" y1="175.50" x2="372.10" y2="175.50" stroke="#111" stroke-width="1.2"/>
<line x1="401.90" y1="175.50" x2="407.50" y2="175.50" stroke="#111" stroke-width="1.2"/>
<rect x="387.50" y="189.50" width="11.00" height="4.00" fill="none" stroke="#111" stroke-width="1.1" rx="0"/>
<line x1="393.50" y1="189.50" x2="393.50" y2="193.50" stroke="#111" stroke-width="1.2"/>
<line x1="387.50" y1="216.60" x2="387.50" y2="234.00" stroke="#111" stroke-width="1.2"/>
<line x1="387.50" y1="247.80" x2="387.50" y2="255.00" stroke="#111" stroke-width="1.2"/>
<circle cx="387.50" cy="240.40" r="10.30" fill="none" stroke="#111" stroke-width="0.85"/>
<circle cx="387.50" cy="240.40" r="8.40" fill="none" stroke="#111" stroke-width="0.8"/>
<line x1="389.62" y1="242.52" x2="392.87" y2="245.77" stroke="#222" stroke-width="0.9"/>
<line x1="385.38" y1="242.52" x2="382.13" y2="245.77" stroke="#222" stroke-width="0.9"/>
<line x1="385.38" y1="238.28" x2="382.13" y2="235.03" stroke="#222" stroke-width="0.9"/>
<line x1="389.62" y1="238.28" x2="392.87" y2="235.03" stroke="#222" stroke-width="0.9"/>
<path d="M383.30,238.60 A2.6,2.6 0 0 0 383.30,242.20" fill="none" stroke="#777" stroke-width="0.9"/>
<path d="M391.70,238.60 A2.6,2.6 0 0 1 391.70,242.20" fill="none" stroke="#777" stroke-width="0.9"/>
<line x1="382.90" y1="241.00" x2="384.90" y2="241.00" stroke="#333" stroke-width="0.9"/>
<line x1="390.10" y1="241.00" x2="392.10" y2="241.00" stroke="#333" stroke-width="0.9"/>
<circle cx="387.50" cy="240.60" r="2.20" fill="none" stroke="#111" stroke-width="1.9"/>
<rect x="386.20" y="234.00" width="2.60" height="2.80" fill="none" stroke="#111" stroke-width="1.1" rx="0"/>
<rect x="386.20" y="243.40" width="2.60" height="4.40" fill="none" stroke="#111" stroke-width="1.1" rx="0"/>
<path d="M374.50,256.5 L374.50,264.3 Q374.50,267.5 377.50,267.5 L397.50,267.5 Q400.50,267.5 400.50,264.3 L400.50,256.5" fill="none" stroke="#111" stroke-width="1.2"/>
<path d="M378.50,262 L378.50,259 Q378.50,257.5 380.00,257.5 L394.00,257.5 Q395.50,257.5 395.50,259 L395.50,262" fill="none" stroke="#111" stroke-width="1.0"/>
<line x1="378.50" y1="262.00" x2="395.50" y2="262.00" stroke="#111" stroke-width="1.6"/>
<line x1="378.50" y1="260.80" x2="382.50" y2="260.80" stroke="#777" stroke-width="0.8"/>
<line x1="391.50" y1="260.80" x2="395.50" y2="260.80" stroke="#777" stroke-width="0.8"/>
<path d="M385.40,262.6 A1.6,1.4 0 0 0 388.60,262.6" fill="none" stroke="#555" stroke-width="1.0"/>
<line x1="427.50" y1="77.00" x2="427.50" y2="85.90" stroke="#111" stroke-width="1.2"/>
<line x1="427.50" y1="99.70" x2="427.50" y2="116.00" stroke="#111" stroke-width="1.2"/>
<circle cx="427.50" cy="92.30" r="10.30" fill="none" stroke="#111" stroke-width="0.85"/>
<circle cx="427.50" cy="92.30" r="8.40" fill="none" stroke="#111" stroke-width="0.8"/>
<line x1="429.62" y1="94.42" x2="432.87" y2="97.67" stroke="#222" stroke-width="0.9"/>
<line x1="425.38" y1="94.42" x2="422.13" y2="97.67" stroke="#222" stroke-width="0.9"/>
<line x1="425.38" y1="90.18" x2="422.13" y2="86.93" stroke="#222" stroke-width="0.9"/>
<line x1="429.62" y1="90.18" x2="432.87" y2="86.93" stroke="#222" stroke-width="0.9"/>
<path d="M423.30,90.50 A2.6,2.6 0 0 0 423.30,94.10" fill="none" stroke="#777" stroke-width="0.9"/>
<path d="M431.70,90.50 A2.6,2.6 0 0 1 431.70,94.10" fill="none" stroke="#777" stroke-width="0.9"/>
<line x1="422.90" y1="92.90" x2="424.90" y2="92.90" stroke="#333" stroke-width="0.9"/>
<line x1="430.10" y1="92.90" x2="432.10" y2="92.90" stroke="#333" stroke-width="0.9"/>
<circle cx="427.50" cy="92.50" r="2.20" fill="none" stroke="#111" stroke-width="1.9"/>
<rect x="426.20" y="85.90" width="2.60" height="2.80" fill="none" stroke="#111" stroke-width="1.1" rx="0"/>
<rect x="426.20" y="95.30" width="2.60" height="4.40" fill="none" stroke="#111" stroke-width="1.1" rx="0"/>
<line x1="407.50" y1="134.50" x2="442.60" y2="134.50" stroke="#111" stroke-width="1.2"/>
<line x1="411.50" y1="134.30" x2="411.50" y2="175.60" stroke="#111" stroke-width="1.2"/>
<line x1="442.50" y1="134.30" x2="442.50" y2="175.60" stroke="#111" stroke-width="1.2"/>
<line x1="411.40" y1="143.50" x2="442.60" y2="143.50" stroke="#111" stroke-width="1.2"/>
<line x1="420.00" y1="143.30" x2="420.00" y2="166.20" stroke="#111" stroke-width="2.0"/>
<line x1="433.50" y1="143.30" x2="433.50" y2="166.20" stroke="#111" stroke-width="1.2"/>
<line x1="411.40" y1="156.50" x2="442.60" y2="156.50" stroke="#111" stroke-width="1.2"/>
<line x1="411.40" y1="158.50" x2="420.30" y2="158.50" stroke="#111" stroke-width="1.2"/>
<line x1="433.90" y1="158.50" x2="442.60" y2="158.50" stroke="#111" stroke-width="1.2"/>
<line x1="420.30" y1="159.50" x2="433.90" y2="159.50" stroke="#111" stroke-width="1.2"/>
<line x1="420.30" y1="164.50" x2="433.90" y2="164.50" stroke="#111" stroke-width="1.2"/>
<line x1="411.40" y1="166.50" x2="420.30" y2="166.50" stroke="#111" stroke-width="1.2"/>
<line x1="433.90" y1="166.50" x2="442.60" y2="166.50" stroke="#111" stroke-width="1.2"/>
<line x1="412.00" y1="166.20" x2="412.00" y2="175.60" stroke="#111" stroke-width="2.0"/>
<line x1="442.00" y1="166.20" x2="442.00" y2="175.60" stroke="#111" stroke-width="2.0"/>
<line x1="412.10" y1="173.50" x2="441.90" y2="173.50" stroke="#111" stroke-width="1.2"/>
<line x1="407.50" y1="175.50" x2="412.10" y2="175.50" stroke="#111" stroke-width="1.2"/>
<line x1="441.90" y1="175.50" x2="447.00" y2="175.50" stroke="#111" stroke-width="1.2"/>
<rect x="427.50" y="189.50" width="11.00" height="4.00" fill="none" stroke="#111" stroke-width="1.1" rx="0"/>
<line x1="433.50" y1="189.50" x2="433.50" y2="193.50" stroke="#111" stroke-width="1.2"/>
<line x1="427.50" y1="216.60" x2="427.50" y2="234.00" stroke="#111" stroke-width="1.2"/>
<line x1="427.50" y1="247.80" x2="427.50" y2="255.00" stroke="#111" stroke-width="1.2"/>
<circle cx="427.50" cy="240.40" r="10.30" fill="none" stroke="#111" stroke-width="0.85"/>
<circle cx="427.50" cy="240.40" r="8.40" fill="none" stroke="#111" stroke-width="0.8"/>
<line x1="429.62" y1="242.52" x2="432.87" y2="245.77" stroke="#222" stroke-width="0.9"/>
<line x1="425.38" y1="242.52" x2="422.13" y2="245.77" stroke="#222" stroke-width="0.9"/>
<line x1="425.38" y1="238.28" x2="422.13" y2="235.03" stroke="#222" stroke-width="0.9"/>
<line x1="429.62" y1="238.28" x2="432.87" y2="235.03" stroke="#222" stroke-width="0.9"/>
<path d="M423.30,238.60 A2.6,2.6 0 0 0 423.30,242.20" fill="none" stroke="#777" stroke-width="0.9"/>
<path d="M431.70,238.60 A2.6,2.6 0 0 1 431.70,242.20" fill="none" stroke="#777" stroke-width="0.9"/>
<line x1="422.90" y1="241.00" x2="424.90" y2="241.00" stroke="#333" stroke-width="0.9"/>
<line x1="430.10" y1="241.00" x2="432.10" y2="241.00" stroke="#333" stroke-width="0.9"/>
<circle cx="427.50" cy="240.60" r="2.20" fill="none" stroke="#111" stroke-width="1.9"/>
<rect x="426.20" y="234.00" width="2.60" height="2.80" fill="none" stroke="#111" stroke-width="1.1" rx="0"/>
<rect x="426.20" y="243.40" width="2.60" height="4.40" fill="none" stroke="#111" stroke-width="1.1" rx="0"/>
<path d="M414.50,256.5 L414.50,264.3 Q414.50,267.5 417.50,267.5 L437.50,267.5 Q440.50,267.5 440.50,264.3 L440.50,256.5" fill="none" stroke="#111" stroke-width="1.2"/>
<path d="M418.50,262 L418.50,259 Q418.50,257.5 420.00,257.5 L434.00,257.5 Q435.50,257.5 435.50,259 L435.50,262" fill="none" stroke="#111" stroke-width="1.0"/>
<line x1="418.50" y1="262.00" x2="435.50" y2="262.00" stroke="#111" stroke-width="1.6"/>
<line x1="418.50" y1="260.80" x2="422.50" y2="260.80" stroke="#777" stroke-width="0.8"/>
<line x1="431.50" y1="260.80" x2="435.50" y2="260.80" stroke="#777" stroke-width="0.8"/>
<path d="M425.40,262.6 A1.6,1.4 0 0 0 428.60,262.6" fill="none" stroke="#555" stroke-width="1.0"/>
<line x1="466.50" y1="77.00" x2="466.50" y2="85.90" stroke="#111" stroke-width="1.2"/>
<line x1="466.50" y1="99.70" x2="466.50" y2="116.00" stroke="#111" stroke-width="1.2"/>
<circle cx="466.50" cy="92.30" r="10.30" fill="none" stroke="#111" stroke-width="0.85"/>
<circle cx="466.50" cy="92.30" r="8.40" fill="none" stroke="#111" stroke-width="0.8"/>
<line x1="468.62" y1="94.42" x2="471.87" y2="97.67" stroke="#222" stroke-width="0.9"/>
<line x1="464.38" y1="94.42" x2="461.13" y2="97.67" stroke="#222" stroke-width="0.9"/>
<line x1="464.38" y1="90.18" x2="461.13" y2="86.93" stroke="#222" stroke-width="0.9"/>
<line x1="468.62" y1="90.18" x2="471.87" y2="86.93" stroke="#222" stroke-width="0.9"/>
<path d="M462.30,90.50 A2.6,2.6 0 0 0 462.30,94.10" fill="none" stroke="#777" stroke-width="0.9"/>
<path d="M470.70,90.50 A2.6,2.6 0 0 1 470.70,94.10" fill="none" stroke="#777" stroke-width="0.9"/>
<line x1="461.90" y1="92.90" x2="463.90" y2="92.90" stroke="#333" stroke-width="0.9"/>
<line x1="469.10" y1="92.90" x2="471.10" y2="92.90" stroke="#333" stroke-width="0.9"/>
<circle cx="466.50" cy="92.50" r="2.20" fill="none" stroke="#111" stroke-width="1.9"/>
<rect x="465.20" y="85.90" width="2.60" height="2.80" fill="none" stroke="#111" stroke-width="1.1" rx="0"/>
<rect x="465.20" y="95.30" width="2.60" height="4.40" fill="none" stroke="#111" stroke-width="1.1" rx="0"/>
<line x1="447.00" y1="134.50" x2="482.10" y2="134.50" stroke="#111" stroke-width="1.2"/>
<line x1="450.50" y1="134.30" x2="450.50" y2="175.60" stroke="#111" stroke-width="1.2"/>
<line x1="482.50" y1="134.30" x2="482.50" y2="175.60" stroke="#111" stroke-width="1.2"/>
<line x1="450.90" y1="143.50" x2="482.10" y2="143.50" stroke="#111" stroke-width="1.2"/>
<line x1="460.00" y1="143.30" x2="460.00" y2="166.20" stroke="#111" stroke-width="2.0"/>
<line x1="473.00" y1="143.30" x2="473.00" y2="166.20" stroke="#111" stroke-width="2.0"/>
<line x1="450.90" y1="156.50" x2="482.10" y2="156.50" stroke="#111" stroke-width="1.2"/>
<line x1="450.90" y1="158.50" x2="459.80" y2="158.50" stroke="#111" stroke-width="1.2"/>
<line x1="473.40" y1="158.50" x2="482.10" y2="158.50" stroke="#111" stroke-width="1.2"/>
<line x1="459.80" y1="159.50" x2="473.40" y2="159.50" stroke="#111" stroke-width="1.2"/>
<line x1="459.80" y1="164.50" x2="473.40" y2="164.50" stroke="#111" stroke-width="1.2"/>
<line x1="450.90" y1="166.50" x2="459.80" y2="166.50" stroke="#111" stroke-width="1.2"/>
<line x1="473.40" y1="166.50" x2="482.10" y2="166.50" stroke="#111" stroke-width="1.2"/>
<line x1="452.00" y1="166.20" x2="452.00" y2="175.60" stroke="#111" stroke-width="2.0"/>
<line x1="482.00" y1="166.20" x2="482.00" y2="175.60" stroke="#111" stroke-width="2.0"/>
<line x1="451.60" y1="173.50" x2="481.40" y2="173.50" stroke="#111" stroke-width="1.2"/>
<line x1="447.00" y1="175.50" x2="451.60" y2="175.50" stroke="#111" stroke-width="1.2"/>
<line x1="481.40" y1="175.50" x2="486.50" y2="175.50" stroke="#111" stroke-width="1.2"/>
<rect x="467.50" y="189.50" width="11.00" height="4.00" fill="none" stroke="#111" stroke-width="1.1" rx="0"/>
<line x1="472.50" y1="189.50" x2="472.50" y2="193.50" stroke="#111" stroke-width="1.2"/>
<line x1="466.50" y1="216.60" x2="466.50" y2="234.00" stroke="#111" stroke-width="1.2"/>
<line x1="466.50" y1="247.80" x2="466.50" y2="255.00" stroke="#111" stroke-width="1.2"/>
<circle cx="466.50" cy="240.40" r="10.30" fill="none" stroke="#111" stroke-width="0.85"/>
<circle cx="466.50" cy="240.40" r="8.40" fill="none" stroke="#111" stroke-width="0.8"/>
<line x1="468.62" y1="242.52" x2="471.87" y2="245.77" stroke="#222" stroke-width="0.9"/>
<line x1="464.38" y1="242.52" x2="461.13" y2="245.77" stroke="#222" stroke-width="0.9"/>
<line x1="464.38" y1="238.28" x2="461.13" y2="235.03" stroke="#222" stroke-width="0.9"/>
<line x1="468.62" y1="238.28" x2="471.87" y2="235.03" stroke="#222" stroke-width="0.9"/>
<path d="M462.30,238.60 A2.6,2.6 0 0 0 462.30,242.20" fill="none" stroke="#777" stroke-width="0.9"/>
<path d="M470.70,238.60 A2.6,2.6 0 0 1 470.70,242.20" fill="none" stroke="#777" stroke-width="0.9"/>
<line x1="461.90" y1="241.00" x2="463.90" y2="241.00" stroke="#333" stroke-width="0.9"/>
<line x1="469.10" y1="241.00" x2="471.10" y2="241.00" stroke="#333" stroke-width="0.9"/>
<circle cx="466.50" cy="240.60" r="2.20" fill="none" stroke="#111" stroke-width="1.9"/>
<rect x="465.20" y="234.00" width="2.60" height="2.80" fill="none" stroke="#111" stroke-width="1.1" rx="0"/>
<rect x="465.20" y="243.40" width="2.60" height="4.40" fill="none" stroke="#111" stroke-width="1.1" rx="0"/>
<path d="M453.50,256.5 L453.50,264.3 Q453.50,267.5 456.50,267.5 L476.50,267.5 Q479.50,267.5 479.50,264.3 L479.50,256.5" fill="none" stroke="#111" stroke-width="1.2"/>
<path d="M458.50,262 L458.50,259 Q458.50,257.5 460.00,257.5 L474.00,257.5 Q475.50,257.5 475.50,259 L475.50,262" fill="none" stroke="#111" stroke-width="1.0"/>
<line x1="458.50" y1="262.00" x2="475.50" y2="262.00" stroke="#111" stroke-width="1.6"/>
<line x1="458.50" y1="260.80" x2="462.50" y2="260.80" stroke="#777" stroke-width="0.8"/>
<line x1="471.50" y1="260.80" x2="475.50" y2="260.80" stroke="#777" stroke-width="0.8"/>
<path d="M465.40,262.6 A1.6,1.4 0 0 0 468.60,262.6" fill="none" stroke="#555" stroke-width="1.0"/>
<line x1="506.50" y1="77.00" x2="506.50" y2="85.90" stroke="#111" stroke-width="1.2"/>
<line x1="506.50" y1="99.70" x2="506.50" y2="116.00" stroke="#111" stroke-width="1.2"/>
<circle cx="506.50" cy="92.30" r="10.30" fill="none" stroke="#111" stroke-width="0.85"/>
<circle cx="506.50" cy="92.30" r="8.40" fill="none" stroke="#111" stroke-width="0.8"/>
<line x1="508.62" y1="94.42" x2="511.87" y2="97.67" stroke="#222" stroke-width="0.9"/>
<line x1="504.38" y1="94.42" x2="501.13" y2="97.67" stroke="#222" stroke-width="0.9"/>
<line x1="504.38" y1="90.18" x2="501.13" y2="86.93" stroke="#222" stroke-width="0.9"/>
<line x1="508.62" y1="90.18" x2="511.87" y2="86.93" stroke="#222" stroke-width="0.9"/>
<path d="M502.30,90.50 A2.6,2.6 0 0 0 502.30,94.10" fill="none" stroke="#777" stroke-width="0.9"/>
<path d="M510.70,90.50 A2.6,2.6 0 0 1 510.70,94.10" fill="none" stroke="#777" stroke-width="0.9"/>
<line x1="501.90" y1="92.90" x2="503.90" y2="92.90" stroke="#333" stroke-width="0.9"/>
<line x1="509.10" y1="92.90" x2="511.10" y2="92.90" stroke="#333" stroke-width="0.9"/>
<circle cx="506.50" cy="92.50" r="2.20" fill="none" stroke="#111" stroke-width="1.9"/>
<rect x="505.20" y="85.90" width="2.60" height="2.80" fill="none" stroke="#111" stroke-width="1.1" rx="0"/>
<rect x="505.20" y="95.30" width="2.60" height="4.40" fill="none" stroke="#111" stroke-width="1.1" rx="0"/>
<line x1="486.50" y1="134.50" x2="521.60" y2="134.50" stroke="#111" stroke-width="1.2"/>
<line x1="490.50" y1="134.30" x2="490.50" y2="175.60" stroke="#111" stroke-width="1.2"/>
<line x1="521.50" y1="134.30" x2="521.50" y2="175.60" stroke="#111" stroke-width="1.2"/>
<line x1="490.40" y1="143.50" x2="521.60" y2="143.50" stroke="#111" stroke-width="1.2"/>
<line x1="499.50" y1="143.30" x2="499.50" y2="166.20" stroke="#111" stroke-width="1.2"/>
<line x1="512.50" y1="143.30" x2="512.50" y2="166.20" stroke="#111" stroke-width="1.2"/>
<line x1="490.40" y1="156.50" x2="521.60" y2="156.50" stroke="#111" stroke-width="1.2"/>
<line x1="490.40" y1="158.50" x2="499.30" y2="158.50" stroke="#111" stroke-width="1.2"/>
<line x1="512.90" y1="158.50" x2="521.60" y2="158.50" stroke="#111" stroke-width="1.2"/>
<line x1="499.30" y1="159.50" x2="512.90" y2="159.50" stroke="#111" stroke-width="1.2"/>
<line x1="499.30" y1="164.50" x2="512.90" y2="164.50" stroke="#111" stroke-width="1.2"/>
<line x1="490.40" y1="166.50" x2="499.30" y2="166.50" stroke="#111" stroke-width="1.2"/>
<line x1="512.90" y1="166.50" x2="521.60" y2="166.50" stroke="#111" stroke-width="1.2"/>
<line x1="491.00" y1="166.20" x2="491.00" y2="175.60" stroke="#111" stroke-width="2.0"/>
<line x1="521.00" y1="166.20" x2="521.00" y2="175.60" stroke="#111" stroke-width="2.0"/>
<line x1="491.10" y1="173.50" x2="520.90" y2="173.50" stroke="#111" stroke-width="1.2"/>
<line x1="486.50" y1="175.50" x2="491.10" y2="175.50" stroke="#111" stroke-width="1.2"/>
<line x1="520.90" y1="175.50" x2="526.50" y2="175.50" stroke="#111" stroke-width="1.2"/>
<rect x="506.50" y="189.50" width="11.00" height="4.00" fill="none" stroke="#111" stroke-width="1.1" rx="0"/>
<line x1="512.50" y1="189.50" x2="512.50" y2="193.50" stroke="#111" stroke-width="1.2"/>
<line x1="506.50" y1="216.60" x2="506.50" y2="234.00" stroke="#111" stroke-width="1.2"/>
<line x1="506.50" y1="247.80" x2="506.50" y2="255.00" stroke="#111" stroke-width="1.2"/>
<circle cx="506.50" cy="240.40" r="10.30" fill="none" stroke="#111" stroke-width="0.85"/>
<circle cx="506.50" cy="240.40" r="8.40" fill="none" stroke="#111" stroke-width="0.8"/>
<line x1="508.62" y1="242.52" x2="511.87" y2="245.77" stroke="#222" stroke-width="0.9"/>
<line x1="504.38" y1="242.52" x2="501.13" y2="245.77" stroke="#222" stroke-width="0.9"/>
<line x1="504.38" y1="238.28" x2="501.13" y2="235.03" stroke="#222" stroke-width="0.9"/>
<line x1="508.62" y1="238.28" x2="511.87" y2="235.03" stroke="#222" stroke-width="0.9"/>
<path d="M502.30,238.60 A2.6,2.6 0 0 0 502.30,242.20" fill="none" stroke="#777" stroke-width="0.9"/>
<path d="M510.70,238.60 A2.6,2.6 0 0 1 510.70,242.20" fill="none" stroke="#777" stroke-width="0.9"/>
<line x1="501.90" y1="241.00" x2="503.90" y2="241.00" stroke="#333" stroke-width="0.9"/>
<line x1="509.10" y1="241.00" x2="511.10" y2="241.00" stroke="#333" stroke-width="0.9"/>
<circle cx="506.50" cy="240.60" r="2.20" fill="none" stroke="#111" stroke-width="1.9"/>
<rect x="505.20" y="234.00" width="2.60" height="2.80" fill="none" stroke="#111" stroke-width="1.1" rx="0"/>
<rect x="505.20" y="243.40" width="2.60" height="4.40" fill="none" stroke="#111" stroke-width="1.1" rx="0"/>
<path d="M493.50,256.5 L493.50,264.3 Q493.50,267.5 496.50,267.5 L516.50,267.5 Q519.50,267.5 519.50,264.3 L519.50,256.5" fill="none" stroke="#111" stroke-width="1.2"/>
<path d="M497.50,262 L497.50,259 Q497.50,257.5 499.00,257.5 L513.00,257.5 Q514.50,257.5 514.50,259 L514.50,262" fill="none" stroke="#111" stroke-width="1.0"/>
<line x1="497.50" y1="262.00" x2="514.50" y2="262.00" stroke="#111" stroke-width="1.6"/>
<line x1="497.50" y1="260.80" x2="501.50" y2="260.80" stroke="#777" stroke-width="0.8"/>
<line x1="510.50" y1="260.80" x2="514.50" y2="260.80" stroke="#777" stroke-width="0.8"/>
<path d="M504.40,262.6 A1.6,1.4 0 0 0 507.60,262.6" fill="none" stroke="#555" stroke-width="1.0"/>
<line x1="367.50" y1="305.50" x2="526.50" y2="305.50" stroke="#111" stroke-width="1.1"/>
<path d="M367.50,305.50 L376.50,304.20 L376.50,306.80 Z" fill="#111" stroke="none"/>
<path d="M526.50,305.50 L517.50,304.20 L517.50,306.80 Z" fill="#111" stroke="none"/>
<text x="444.40" y="301.70" font-size="11" text-anchor="middle" fill="#2a2a2a">71.2</text>
<line x1="11.30" y1="115.30" x2="28.40" y2="115.30" stroke="#111" stroke-width="1.2"/>
<line x1="552.00" y1="100.20" x2="581.00" y2="100.20" stroke="#111" stroke-width="1.0"/>
<line x1="581.00" y1="100.20" x2="642.60" y2="100.20" stroke="#111" stroke-width="2.0"/>
<line x1="642.60" y1="99.70" x2="740.30" y2="99.70" stroke="#111" stroke-width="1.0"/>
<line x1="555.70" y1="100.50" x2="555.70" y2="286.00" stroke="#111" stroke-width="1.0"/>
<path d="M555.70,100.80 L554.60,108.80 L556.80,108.80 Z" fill="#111" stroke="none"/>
<path d="M555.70,285.80 L554.60,277.80 L556.80,277.80 Z" fill="#111" stroke="none"/>
<line x1="584.40" y1="100.50" x2="584.40" y2="279.00" stroke="#111" stroke-width="1.0"/>
<path d="M584.40,100.80 L583.30,108.80 L585.50,108.80 Z" fill="#111" stroke="none"/>
<path d="M584.40,278.80 L583.30,270.80 L585.50,270.80 Z" fill="#111" stroke="none"/>
<line x1="552.00" y1="286.30" x2="646.00" y2="286.30" stroke="#111" stroke-width="1.0"/>
<line x1="581.30" y1="279.20" x2="632.60" y2="279.20" stroke="#111" stroke-width="1.0"/>
<text x="554.20" y="183.50" font-size="11" text-anchor="middle" fill="#2a2a2a" transform="rotate(-90 554.20 183.50)">83.8<tspan font-size="14.5" dx="1.4">±</tspan><tspan dx="1.3">0.2</tspan></text>
<text x="582.20" y="186.60" font-size="11" text-anchor="middle" fill="#2a2a2a" transform="rotate(-90 582.20 186.60)">81<tspan font-size="14.5" dx="1.4">±</tspan><tspan dx="1.3">0.3</tspan></text>
<line x1="632.60" y1="75.40" x2="632.60" y2="119.30" stroke="#111" stroke-width="1.3"/>
<line x1="743.50" y1="75.40" x2="743.50" y2="140.00" stroke="#111" stroke-width="1.0"/>
<line x1="632.60" y1="79.30" x2="743.50" y2="79.30" stroke="#111" stroke-width="1.0"/>
<path d="M632.60,79.30 L641.60,78.00 L641.60,80.60 Z" fill="#111" stroke="none"/>
<path d="M743.50,79.30 L734.50,78.00 L734.50,80.60 Z" fill="#111" stroke="none"/>
<text x="691.00" y="76.20" font-size="11" text-anchor="middle" fill="#2a2a2a">50<tspan font-size="14.5" dx="1.4">±</tspan><tspan dx="1.3">0.15</tspan></text>
<path d="M632.6,119.3 L632.6,136.5 L636.3,150 L638.1,157.7 L643.4,151.5" fill="none" stroke="#111" stroke-width="1.0"/>
<line x1="611.50" y1="151.50" x2="645.20" y2="151.50" stroke="#111" stroke-width="1.0"/>
<line x1="645.20" y1="151.50" x2="645.20" y2="230.50" stroke="#111" stroke-width="1.0"/>
<line x1="613.80" y1="152.00" x2="613.80" y2="230.00" stroke="#111" stroke-width="1.0"/>
<path d="M613.80,151.90 L612.70,159.90 L614.90,159.90 Z" fill="#111" stroke="none"/>
<path d="M613.80,229.60 L612.70,221.60 L614.90,221.60 Z" fill="#111" stroke="none"/>
<line x1="611.50" y1="230.50" x2="645.20" y2="230.50" stroke="#111" stroke-width="1.0"/>
<text x="612.80" y="191.30" font-size="11" text-anchor="middle" fill="#2a2a2a" transform="rotate(-90 612.80 191.30)">35.5<tspan font-size="14.5" dx="1.4">±</tspan><tspan dx="1.3">0.05</tspan></text>
<line x1="633.30" y1="182.20" x2="633.30" y2="232.80" stroke="#111" stroke-width="1.0"/>
<path d="M638.5,229.5 Q641,227.5 643.5,229.5 L643.5,233.5 L639,233.5 Z" fill="none" stroke="#111" stroke-width="1.0"/>
<line x1="632.80" y1="234.60" x2="632.80" y2="279.50" stroke="#111" stroke-width="2.0"/>
<line x1="633.50" y1="279.50" x2="633.50" y2="317.40" stroke="#111" stroke-width="1.0"/>
<rect x="633.50" y="280.30" width="12.00" height="10.70" fill="none" stroke="#111" stroke-width="1.0" rx="0"/>
<line x1="637.30" y1="280.30" x2="637.30" y2="286.30" stroke="#111" stroke-width="1.0"/>
<line x1="637.30" y1="286.30" x2="640.00" y2="291.00" stroke="#111" stroke-width="1.0"/>
<line x1="668.00" y1="99.70" x2="668.00" y2="279.80" stroke="#111" stroke-width="1.0"/>
<line x1="633.50" y1="280.00" x2="668.40" y2="280.00" stroke="#111" stroke-width="1.0"/>
<line x1="668.40" y1="279.80" x2="718.30" y2="279.80" stroke="#111" stroke-width="1.3"/>
<line x1="718.30" y1="279.80" x2="741.00" y2="279.80" stroke="#111" stroke-width="1.0"/>
<path d="M718.1,99.7 L718.1,146.5 Q718.1,151 722.5,152.5 L726.3,153 Q729.7,154 729.7,158 L729.7,223.8 Q729.7,229.3 724,229.3 L721,229.3 Q718.1,229.6 718.1,233 L718.1,279.8" fill="none" stroke="#111" stroke-width="1.0"/>
<path d="M732.2,206.5 Q734,197 740.5,197.5 Q742.3,199 740.8,201 Q737,203 735,206.6 Q733.5,208 732.2,206.5 Z" fill="none" stroke="#111" stroke-width="1.0"/>
<path d="M740.3,99.7 Q741.6,100.5 742.2,104 L743.2,118.5 L743.2,140" fill="none" stroke="#111" stroke-width="1.0"/>
<line x1="743.30" y1="140.00" x2="832.00" y2="140.00" stroke="#111" stroke-width="1.0"/>
<line x1="757.70" y1="140.00" x2="777.70" y2="140.00" stroke="#111" stroke-width="2.0"/>
<path d="M743.8,240 L741,279.8" fill="none" stroke="#111" stroke-width="1.0"/>
<line x1="743.30" y1="239.50" x2="832.00" y2="239.50" stroke="#111" stroke-width="1.0"/>
<line x1="762.00" y1="239.50" x2="778.00" y2="239.50" stroke="#111" stroke-width="2.0"/>
<line x1="828.20" y1="140.50" x2="828.20" y2="239.00" stroke="#111" stroke-width="1.0"/>
<path d="M828.20,140.60 L827.10,148.60 L829.30,148.60 Z" fill="#111" stroke="none"/>
<path d="M828.20,239.00 L827.10,231.00 L829.30,231.00 Z" fill="#111" stroke="none"/>
<text x="827.50" y="188.80" font-size="11" text-anchor="middle" fill="#2a2a2a" transform="rotate(-90 827.50 188.80)">45<tspan font-size="14.5" dx="1.4">±</tspan><tspan dx="1.3">0.15</tspan></text>
<line x1="788.40" y1="195.00" x2="788.40" y2="317.40" stroke="#111" stroke-width="1.0"/>
<line x1="633.50" y1="313.80" x2="788.40" y2="313.80" stroke="#111" stroke-width="1.0"/>
<path d="M633.50,313.80 L642.50,312.50 L642.50,315.10 Z" fill="#111" stroke="none"/>
<path d="M788.40,313.80 L779.40,312.50 L779.40,315.10 Z" fill="#111" stroke="none"/>
<text x="717.00" y="312.70" font-size="11" text-anchor="middle" fill="#2a2a2a">69.9<tspan font-size="14.5" dx="1.4">±</tspan><tspan dx="1.3">0.15</tspan></text>
<path d="M777.7,140 Q784,146 785.5,160 Q787.5,178 787.7,194.3" fill="none" stroke="#111" stroke-width="1.0"/>
<path d="M776,142 Q781.5,148 783,158" fill="none" stroke="#111" stroke-width="1.0"/>
<path d="M785.5,204.3 Q781,213 779.3,225 L778.1,239.5" fill="none" stroke="#111" stroke-width="1.0"/>
<path d="M788.2,202 Q783.5,214 782,226 L781.5,239" fill="none" stroke="#111" stroke-width="1.0"/>
<path d="M787,195 Q791,196 792.5,201 Q794,206.5 791,208 Q788.5,208.5 787.3,205" fill="none" stroke="#111" stroke-width="1.0"/>
<circle cx="789.50" cy="201.50" r="1.60" fill="none" stroke="#111" stroke-width="0.8"/>
<circle cx="642.60" cy="126.80" r="4.50" fill="none" stroke="#111" stroke-width="1.0"/>
<circle cx="642.60" cy="126.80" r="2.60" fill="none" stroke="#111" stroke-width="1.0"/>
<circle cx="640.60" cy="138.50" r="2.00" fill="none" stroke="#111" stroke-width="1.0"/>
<circle cx="649.60" cy="254.20" r="2.00" fill="none" stroke="#111" stroke-width="1.0"/>
<circle cx="648.90" cy="263.10" r="4.30" fill="none" stroke="#111" stroke-width="1.0"/>
<circle cx="662.10" cy="267.20" r="4.50" fill="none" stroke="#111" stroke-width="1.0"/>
<circle cx="662.10" cy="267.20" r="2.60" fill="none" stroke="#111" stroke-width="1.0"/>
<circle cx="737.10" cy="134.00" r="4.50" fill="none" stroke="#111" stroke-width="1.0"/>
<circle cx="737.10" cy="134.00" r="2.60" fill="none" stroke="#111" stroke-width="1.0"/>
<circle cx="737.00" cy="251.70" r="4.50" fill="none" stroke="#111" stroke-width="1.0"/>
<circle cx="737.00" cy="251.70" r="2.60" fill="none" stroke="#111" stroke-width="1.0"/>
<circle cx="771.70" cy="146.60" r="4.50" fill="none" stroke="#111" stroke-width="1.0"/>
<circle cx="771.70" cy="146.60" r="2.60" fill="none" stroke="#111" stroke-width="1.0"/>
<circle cx="771.70" cy="160.00" r="2.00" fill="none" stroke="#111" stroke-width="1.0"/>
<circle cx="784.30" cy="181.00" r="1.50" fill="none" stroke="#111" stroke-width="1.0"/>
<circle cx="740.70" cy="198.30" r="1.50" fill="none" stroke="#111" stroke-width="1.0"/>
<circle cx="771.00" cy="232.80" r="4.50" fill="none" stroke="#111" stroke-width="1.0"/>
<circle cx="771.00" cy="232.80" r="2.60" fill="none" stroke="#111" stroke-width="1.0"/>
</svg></body></html>
